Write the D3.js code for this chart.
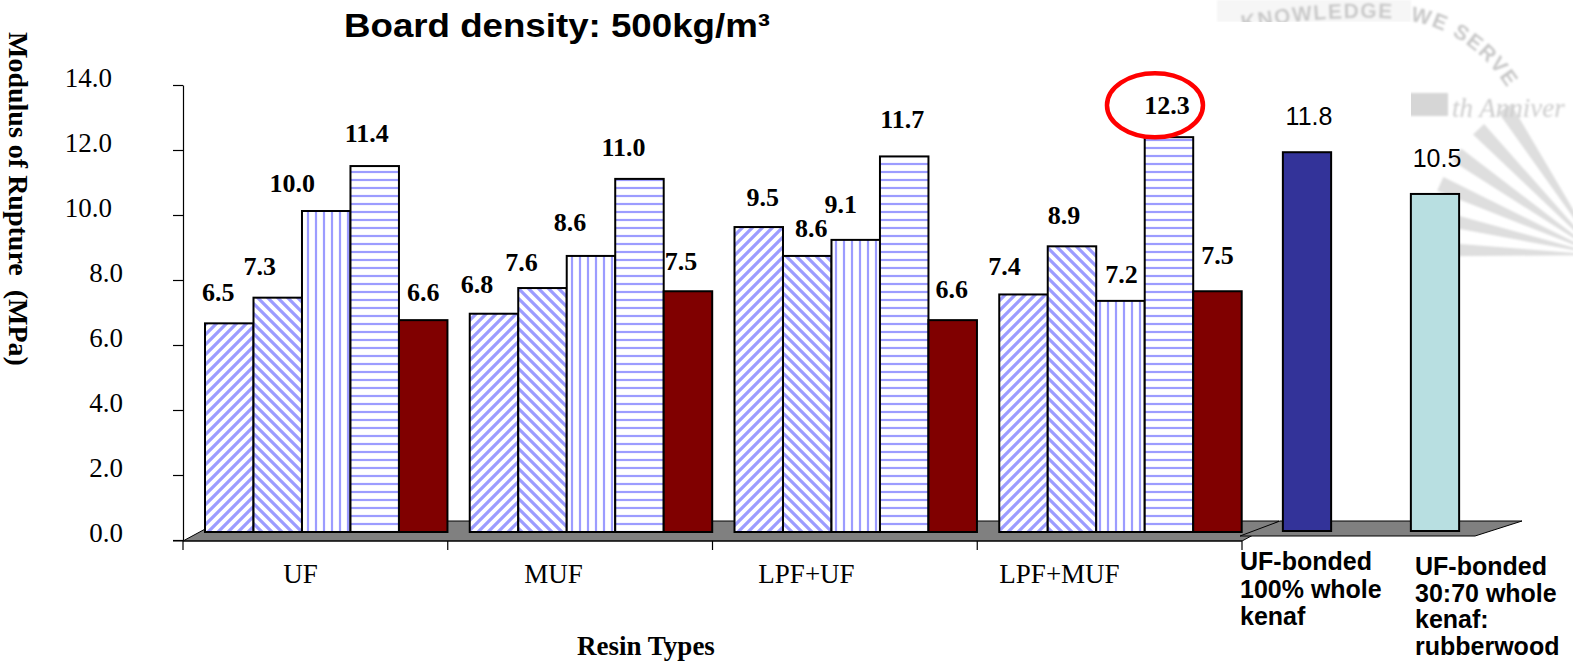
<!DOCTYPE html>
<html>
<head>
<meta charset="utf-8">
<script src="https://cdn.jsdelivr.net/npm/d3@7"></script>
<style>
  body { margin: 0; background: #fff; }
  svg { display: block; }
</style>
</head>
<body>
<svg id="chart" width="1573" height="661"></svg>
<script>
// ---- data -------------------------------------------------------------
const resinTypes = ["UF", "MUF", "LPF+UF", "LPF+MUF"];
// modulus of rupture (MPa) for the five board types within each resin group
const ufMOR     = [6.5, 7.3, 10.0, 11.4, 6.6];
const mufMOR    = [6.8, 7.6, 8.6, 11.0, 7.5];
const lpfUfMOR  = [9.5, 8.6, 9.1, 11.7, 6.6];
const lpfMufMOR = [7.4, 8.9, 7.2, 12.3, 7.5];
const morByResin = [ufMOR, mufMOR, lpfUfMOR, lpfMufMOR];

// reference boards
const refBoards = ["UF-bonded 100% whole kenaf", "UF-bonded 30:70 whole kenaf: rubberwood"];
const refMOR = [11.8, 10.5];
const refBoardLines = [["UF-bonded", "100% whole", "kenaf"],
                       ["UF-bonded", "30:70 whole", "kenaf:", "rubberwood"]];

const yTicks = [0, 2, 4, 6, 8, 10, 12, 14];

// hand placement of the value labels (dx, dy from the bar top centre)
const labelNudge = [
  [-11, -22], [-18, -23], [-34, -19], [-8, -24], [0, -19],
  [-17, -21], [-21, -17], [-21, -25], [-16, -23], [-7, -21],
  [4, -21],   [4, -19],   [-15, -27], [-2, -28], [-1, -22],
  [-19, -19], [-8, -22],  [1, -18],   [-2, -23], [0, -27]
];

// ---- setup ------------------------------------------------------------
const serif = "'Liberation Serif', 'Times New Roman', serif";
const sans = "'Liberation Sans', Arial, sans-serif";
const svg = d3.select("#chart");
const defs = svg.append("defs");

const stripeColor = "#9c9cff";
function makePattern(id, w, h, d, sw) {
  const p = defs.append("pattern").attr("id", id)
    .attr("patternUnits", "userSpaceOnUse").attr("width", w).attr("height", h);
  p.append("rect").attr("width", w).attr("height", h).attr("fill", "#fff");
  p.append("path").attr("d", d).attr("stroke", stripeColor)
    .attr("stroke-width", sw).attr("fill", "none");
}
makePattern("upDiag", 10, 10, "M-2,2L2,-2M0,10L10,0M8,12L12,8", 3.2);
makePattern("downDiag", 10, 10, "M-2,8L2,12M0,0L10,10M8,-2L12,2", 3.2);
makePattern("vStripe", 8, 8, "M4,0V8", 2.2);
makePattern("hStripe", 8, 8, "M0,4H8", 2.2);
const seriesFill = ["url(#upDiag)", "url(#downDiag)", "url(#vStripe)", "url(#hStripe)", "#800000"];

defs.append("filter").attr("id", "soft")
  .append("feGaussianBlur").attr("stdDeviation", 1.2);

// ---- scales -----------------------------------------------------------
const x = d3.scaleBand().domain(resinTypes).range([183, 1242]);
const inner = d3.scaleBand().domain(d3.range(5)).range([22, x.bandwidth() - 0.3]);
const yAxisScale = d3.scaleLinear().domain([0, 14]).range([540, 85]);
const yBar = d3.scaleLinear().domain([0, 14]).range([532, 532 - 14 * 32.1]);
const xLabel = d3.scaleBand().domain(resinTypes).range([174, 1186]);

const xRef = d3.scaleBand().domain(refBoards).range([1243, 1499])
  .paddingInner(0.623).paddingOuter(0.3115);
const yRef = d3.scaleLinear().domain([0, 14]).range([531, 531 - 14 * 32.1]);

// ---- background emblem (top right) ------------------------------------
const emblem = svg.append("g").attr("filter", "url(#soft)");
emblem.append("rect").attr("x", 1217).attr("y", 0).attr("width", 194).attr("height", 22).attr("fill", "#f6f6f6");
const fanC = [1600, 255];
d3.range(182, 240, 11).forEach(a => {
  const r = Math.PI / 180, L = 175;
  const p1 = [fanC[0] + L * Math.cos((a - 2.5) * r), fanC[1] + L * Math.sin((a - 2.5) * r)];
  const p2 = [fanC[0] + L * Math.cos((a + 2.5) * r), fanC[1] + L * Math.sin((a + 2.5) * r)];
  emblem.append("path").attr("d", `M${fanC}L${p1}L${p2}Z`).attr("fill", "#dedede");
});
emblem.append("rect").attr("x", 1380).attr("y", 93).attr("width", 68).attr("height", 23).attr("fill", "#d6d6d6");
emblem.append("text").attr("x", 1452).attr("y", 117)
  .attr("font-family", serif).attr("font-style", "italic").attr("font-size", 27)
  .attr("fill", "#cdcdcd").text("th Anniver");
// motto set along a curve, in two runs
emblem.append("path").attr("id", "mottoArcA").attr("d", "M1242,30 C1300,19 1350,16 1402,19").attr("fill", "none");
emblem.append("path").attr("id", "mottoArcB").attr("d", "M1410,21 C1448,27 1482,50 1506,86").attr("fill", "none");
[["mottoArcA", "KNOWLEDGE"], ["mottoArcB", "WE SERVE"]].forEach(([id, word]) => {
  emblem.append("text").attr("font-family", sans).attr("font-weight", "bold").attr("font-size", 21)
    .attr("fill", "#c8c8c8").attr("letter-spacing", 1.5)
    .append("textPath").attr("href", "#" + id).text(word);
});

// plotting panel of the reference boards
svg.append("rect").attr("x", 1210).attr("y", 22).attr("width", 201).attr("height", 639).attr("fill", "#fff");

// ---- floors -----------------------------------------------------------
const depthX = 37, frontY = 541, backY = 521;
const [x0, x1] = x.range();
svg.append("path")
  .attr("d", `M${x0},${frontY}L${x1},${frontY}L${x1 + depthX},${backY}L${x0 + depthX},${backY}Z`)
  .attr("fill", "#808080").attr("stroke", "#000").attr("stroke-width", 1);

const [r0, r1] = xRef.range();
svg.append("path")
  .attr("d", `M${r0 - 3},536L${r1 - 24},536L${r1 + 23},${backY}L${r0 + 37},${backY}Z`)
  .attr("fill", "#808080").attr("stroke", "#000").attr("stroke-width", 1);

// ---- axes -------------------------------------------------------------
const yAxis = svg.append("g").attr("transform", `translate(${x0},0)`)
  .call(d3.axisLeft(yAxisScale).tickValues(yTicks).tickSize(10).tickSizeOuter(0)
    .tickFormat(d3.format(".1f")));
yAxis.select(".domain").attr("stroke", "#000").attr("stroke-width", 1.2);
yAxis.selectAll(".tick line").attr("stroke", "#000").attr("stroke-width", 1.2);
yAxis.selectAll(".tick text")
  .attr("font-family", serif).attr("font-size", 27).attr("fill", "#000")
  .attr("x", d => d >= 10 ? -71 : -60).attr("y", -8).attr("dy", "0.35em");

// horizontal axis line with category separators
svg.append("line").attr("x1", x0 - 10).attr("x2", x1).attr("y1", frontY).attr("y2", frontY)
  .attr("stroke", "#000").attr("stroke-width", 1.2);
const sepX = resinTypes.map(d => x(d)).concat([x1]);
svg.selectAll(".sep").data(sepX).join("line").attr("class", "sep")
  .attr("x1", d => d).attr("x2", d => d).attr("y1", frontY).attr("y2", frontY + 9)
  .attr("stroke", "#000").attr("stroke-width", 1.2);

svg.selectAll(".cat").data(resinTypes).join("text").attr("class", "cat")
  .attr("x", d => xLabel(d) + xLabel.bandwidth() / 2).attr("y", 583)
  .attr("text-anchor", "middle").attr("font-family", serif).attr("font-size", 27)
  .text(d => d);

// ---- bars -------------------------------------------------------------
const rows = resinTypes.flatMap((r, ri) =>
  morByResin[ri].map((v, si) => ({ r, si, v, k: ri * 5 + si })));

svg.selectAll(".bar").data(rows).join("rect").attr("class", "bar")
  .attr("x", d => x(d.r) + inner(d.si))
  .attr("y", d => yBar(d.v))
  .attr("width", inner.bandwidth())
  .attr("height", d => yBar(0) - yBar(d.v))
  .attr("fill", d => seriesFill[d.si])
  .attr("stroke", "#000").attr("stroke-width", 2);

svg.selectAll(".val").data(rows).join("text").attr("class", "val")
  .attr("x", d => x(d.r) + inner(d.si) + inner.bandwidth() / 2 + labelNudge[d.k][0])
  .attr("y", d => yBar(d.v) + labelNudge[d.k][1])
  .attr("text-anchor", "middle").attr("font-family", serif).attr("font-weight", "bold")
  .attr("font-size", 26).text(d => d.v.toFixed(1));

// highlight ring around the largest value
const peak = rows.reduce((a, b) => (b.v > a.v ? b : a));
svg.append("ellipse")
  .attr("cx", x(peak.r) + inner(peak.si) + inner.bandwidth() / 2 + labelNudge[peak.k][0] - 12)
  .attr("cy", yBar(peak.v) + labelNudge[peak.k][1] - 9)
  .attr("rx", 48).attr("ry", 32)
  .attr("fill", "none").attr("stroke", "#ff0000").attr("stroke-width", 4.5);

// reference boards
const refColors = ["#333399", "#b8dfe1"];
svg.selectAll(".ref").data(refBoards).join("rect").attr("class", "ref")
  .attr("x", d => xRef(d)).attr("y", (d, i) => yRef(refMOR[i]))
  .attr("width", xRef.bandwidth())
  .attr("height", (d, i) => yRef(0) - yRef(refMOR[i]))
  .attr("fill", (d, i) => refColors[i]).attr("stroke", "#000").attr("stroke-width", 2);

svg.selectAll(".refval").data(refBoards).join("text").attr("class", "refval")
  .attr("x", d => xRef(d) + xRef.bandwidth() / 2 + 2)
  .attr("y", (d, i) => yRef(refMOR[i]) - 27)
  .attr("text-anchor", "middle").attr("font-family", sans).attr("font-size", 25)
  .text((d, i) => refMOR[i].toFixed(1));

const refLabelX = [1240, 1415];
const refLabelY = [570, 575];
const refLineGap = [27.5, 26.5];
refBoardLines.forEach((lines, i) => {
  const t = svg.append("text").attr("font-family", sans).attr("font-weight", "bold")
    .attr("font-size", 25);
  lines.forEach((ln, j) => t.append("tspan").attr("x", refLabelX[i])
    .attr("y", refLabelY[i] + j * refLineGap[i]).text(ln));
});

// ---- titles -----------------------------------------------------------
svg.append("text").attr("x", 344).attr("y", 37)
  .attr("font-family", sans).attr("font-weight", "bold").attr("font-size", 34)
  .attr("textLength", 426).attr("lengthAdjust", "spacingAndGlyphs")
  .text("Board density: 500kg/m³");

svg.append("text").attr("transform", "translate(9,32) rotate(90)")
  .attr("font-family", serif).attr("font-weight", "bold").attr("font-size", 28)
  .attr("xml:space", "preserve")
  .text("Modulus of Rupture  (MPa)");

svg.append("text").attr("x", 646).attr("y", 655).attr("text-anchor", "middle")
  .attr("font-family", serif).attr("font-weight", "bold").attr("font-size", 27)
  .text("Resin Types");
</script>
</body>
</html>
